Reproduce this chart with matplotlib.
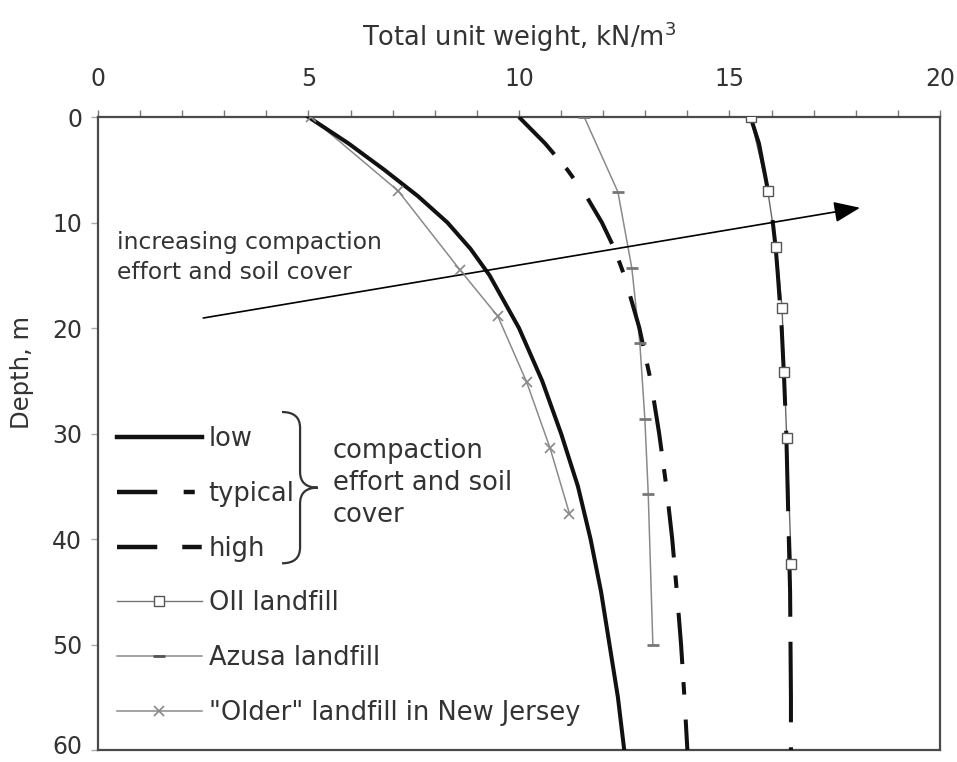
import numpy as np
import matplotlib
matplotlib.use("Agg")
import matplotlib.pyplot as plt
import matplotlib.transforms as mtransforms
from matplotlib.lines import Line2D
from matplotlib.path import Path
from matplotlib.patches import PathPatch

plt.rcParams["font.family"] = ["DejaVu Sans"]
plt.rcParams["lines.scale_dashes"] = False

# unit weight profiles (kN/m3) for three compaction levels
depth_curve = [0, 2.5, 5, 7.5, 10, 12.5, 15, 20, 25, 30, 35, 40, 45, 50, 55, 60]
gamma_low = [5.0, 5.95, 6.8, 7.6, 8.3, 8.85, 9.3, 10.0, 10.55, 11.0, 11.4, 11.7, 11.95, 12.15, 12.35, 12.5]
gamma_typical = [10.0, 10.62, 11.15, 11.6, 11.97, 12.27, 12.5, 12.86, 13.13, 13.33, 13.5, 13.64, 13.75, 13.85, 13.93, 14.0]
gamma_high = [15.5, 15.7, 15.82, 15.94, 16.03, 16.1, 16.15, 16.24, 16.3, 16.35, 16.38, 16.41, 16.44, 16.45, 16.46, 16.46]

# field measurements
oii_depth = [0, 7.0, 12.3, 18.1, 24.2, 30.4, 42.4]
oii_gamma = [15.5, 15.91, 16.11, 16.25, 16.3, 16.36, 16.47]

azusa_depth = [0, 7.1, 14.3, 21.4, 28.6, 35.7, 50.0]
azusa_gamma = [11.55, 12.35, 12.68, 12.87, 12.99, 13.07, 13.18]

nj_depth = [0, 7.0, 14.5, 18.9, 25.1, 31.4, 37.6]
nj_gamma = [5.05, 7.13, 8.6, 9.5, 10.18, 10.74, 11.2]

arrow_tail = (2.5, 19.05)
arrow_head = (18.1, 8.6)

txt = "#333333"
grey = "#8a8a8a"
blk = "#111111"

fig = plt.figure(figsize=(9.57, 7.62), dpi=100)
ax = fig.add_axes([0.1024, 0.0157, 0.8798, 0.8307])

# thin measured lines underneath, markers on top of everything
ax.plot(oii_gamma, oii_depth, color="#666666", lw=1.0, zorder=2)
ax.plot(azusa_gamma, azusa_depth, color=grey, lw=1.1, zorder=2)
ax.plot(nj_gamma, nj_depth, color=grey, lw=1.1, zorder=2)

ax.plot(gamma_low, depth_curve, color=blk, lw=2.9, zorder=3)
ax.plot(gamma_typical, depth_curve, color=blk, lw=2.9, dashes=(37, 13, 9, 18), zorder=3)
ax.plot(gamma_high, depth_curve, color=blk, lw=2.9, dashes=(58, 18), zorder=3)

ax.plot(oii_gamma, oii_depth, ls="none", marker="s", ms=6.5,
        mfc="white", mec="#555555", mew=1.0, zorder=5)
ax.plot(azusa_gamma, azusa_depth, ls="none", marker="_", ms=9,
        mec="#777777", mew=2.0, zorder=5)
ax.plot(nj_gamma, nj_depth, ls="none", marker="x", ms=7,
        mec="#888888", mew=1.2, zorder=5)

ax.annotate("", xy=arrow_head, xytext=arrow_tail,
            arrowprops=dict(arrowstyle="-|>,head_length=0.8,head_width=0.32",
                            color="black", lw=1.2, mutation_scale=20,
                            shrinkA=0, shrinkB=0))
ax.text(0.45, 13.35, "increasing compaction\neffort and soil cover",
        fontsize=16.8, color=txt, va="center", ha="left", linespacing=1.4)

ax.set_xlim(0, 20)
ax.set_ylim(60, 0)
ax.xaxis.tick_top()
ax.xaxis.set_label_position("top")
ax.set_xticks(np.arange(0, 21, 5))
ax.set_xticks(np.arange(0, 21, 1), minor=True)
ax.set_yticks(np.arange(0, 61, 10))
ax.tick_params(axis="x", which="both", direction="out", length=5, width=1,
               color="#777777", labelsize=17, labelcolor=txt, pad=14)
ax.tick_params(axis="y", direction="out", length=5, width=1,
               color="#aaaaaa", labelsize=17, labelcolor=txt, pad=6.5)
ax.set_xlabel("Total unit weight, kN/m$^3$", fontsize=18.5, color=txt, labelpad=15)
ax.set_ylabel("Depth, m", fontsize=17.5, color=txt)
ax.yaxis.set_label_coords(-0.076, 0.597)
for s in ax.spines.values():
    s.set_color("#4a4a4a")
    s.set_linewidth(1.6)

# keep the bottom "60" label inside the canvas
fig.canvas.draw()
last = ax.get_yticklabels()[-1]
last.set_transform(last.get_transform() +
                   mtransforms.ScaledTranslation(0, 4 / 72, fig.dpi_scale_trans))

# legend with proxy lines
handles = [
    Line2D([], [], color=blk, lw=3.2),
    Line2D([], [], color=blk, lw=3.2, dashes=(29, 19, 8, 40)),
    Line2D([], [], color=blk, lw=3.2, dashes=(29, 18, 14, 40)),
    Line2D([], [], color="#777777", lw=1.0, marker="s", ms=6.5, mfc="white",
           mec="#555555", mew=1.0),
    Line2D([], [], color=grey, lw=1.1, marker="_", ms=9, mec="#555555", mew=2.0),
    Line2D([], [], color=grey, lw=1.1, marker="x", ms=7, mec="#888888", mew=1.2),
]
labels = ["low", "typical", "high", "OII landfill", "Azusa landfill",
          '"Older" landfill in New Jersey']
leg = ax.legend(handles, labels, loc="upper left", bbox_to_anchor=(0.0103, 0.528),
                borderaxespad=0, frameon=False, fontsize=18.5, handlelength=3.3,
                handletextpad=0.27, labelspacing=1.12, numpoints=1)
for t in leg.get_texts():
    t.set_color(txt)

# brace grouping the three compaction curves
bx, tip, curl = 0.240, 0.261, 0.2185
top, bot = 0.534, 0.295
mid = (top + bot) / 2
r = 0.025
verts = [(curl, top), (bx, top), (bx, top - r),
         (bx, mid + r),
         (bx, mid), (tip, mid),
         (bx, mid), (bx, mid - r),
         (bx, bot + r),
         (bx, bot), (curl, bot)]
codes = [Path.MOVETO, Path.CURVE3, Path.CURVE3, Path.LINETO,
         Path.CURVE3, Path.CURVE3, Path.CURVE3, Path.CURVE3,
         Path.LINETO, Path.CURVE3, Path.CURVE3]
ax.add_patch(PathPatch(Path(verts, codes), transform=ax.transAxes,
                       fc="none", ec="#333333", lw=1.6))
ax.text(0.279, mid + 0.007, "compaction\neffort and soil\ncover", transform=ax.transAxes,
        fontsize=18.5, color=txt, va="center", ha="left", linespacing=1.3)

fig.savefig("out.png", dpi=100)
